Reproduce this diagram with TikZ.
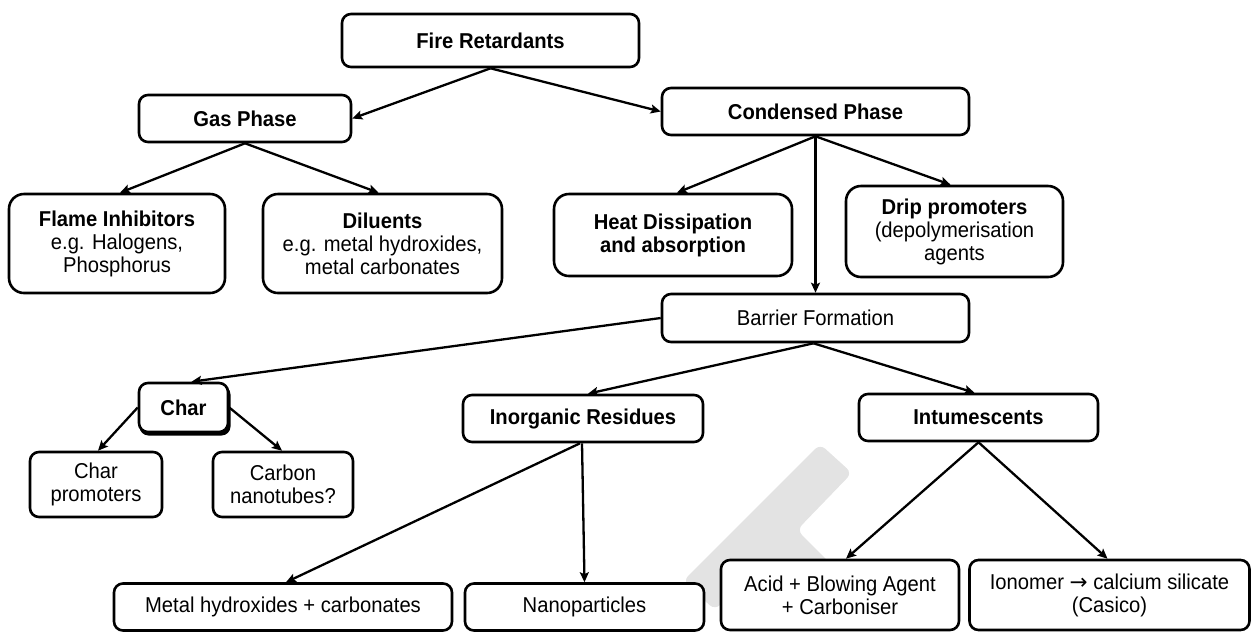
\documentclass[tikz,border=0pt]{standalone}
\usepackage{fontspec}
\setmainfont{Liberation Sans}[FakeStretch=0.94]
\newfontfamily\arrowfont{DejaVu Sans}
\usetikzlibrary{arrows.meta}
\tikzset{
  box/.style={draw, line width=2.6pt, rounded corners=9pt, fill=white, align=center,
    inner sep=0pt, font=\fontsize{21.5}{23}\selectfont},
  bigbox/.style={box, rounded corners=15pt},
  arr/.style={line width=2.3pt, -{Stealth[length=10pt,width=9pt,inset=2pt]}},
}
\begin{document}
\begin{tikzpicture}[x=1pt,y=-1pt]
\useasboundingbox (0,0) rectangle (1252,633);
% watermark
\fill[gray!22, rounded corners=7pt] (820,444) -- (852,473) -- (797,530) -- (857,590) -- (814,631)
  -- (754,571) -- (715,610) -- (683,581) -- cycle;
% nodes
\node[box, minimum width=297pt, minimum height=53pt] (fire) at (490.5,40.5) {\bfseries Fire Retardants};
\node[box, minimum width=212pt, minimum height=47pt] (gas) at (245,118.5) {\bfseries Gas Phase};
\node[box, minimum width=307pt, minimum height=47pt] (cond) at (815.5,111.5) {\bfseries Condensed Phase};
\node[bigbox, minimum width=216pt, minimum height=99pt] (flame) at (117,243.5) {\bfseries Flame Inhibitors\\e.g. Halogens,\\Phosphorus};
\node[bigbox, minimum width=239pt, minimum height=99pt] (dil) at (382.5,243.5) {\bfseries Diluents\\e.g. metal hydroxides,\\metal carbonates};
\node[bigbox, minimum width=238pt, minimum height=82pt] (heat) at (673,235) {\bfseries Heat Dissipation\\\bfseries and absorption};
\node[bigbox, minimum width=217pt, minimum height=91pt] (drip) at (954.5,231.5) {\bfseries Drip promoters\\(depolymerisation\\agents};
\node[box, minimum width=307pt, minimum height=48pt] (barrier) at (815.5,318) {Barrier Formation};
\fill[rounded corners=9pt] (139.5,385.5) rectangle (230.5,435.5);
\node[box, minimum width=89pt, minimum height=49pt] (char) at (183.5,407.5) {\bfseries Char};
\node[box, minimum width=132pt, minimum height=65pt] (charprom) at (96,484.5) {Char\\promoters};
\node[box, minimum width=140pt, minimum height=65pt] (carbon) at (283,484.5) {Carbon\\nanotubes?};
\node[box, minimum width=240pt, minimum height=47pt] (inorg) at (583,418.5) {\bfseries Inorganic Residues};
\node[box, minimum width=239pt, minimum height=47pt] (intu) at (978.5,417.5) {\bfseries Intumescents};
\node[box, minimum width=338pt, minimum height=47pt] (metal) at (283,607) {Metal hydroxides + carbonates};
\node[box, minimum width=239pt, minimum height=47pt] (nano) at (584.5,607) {Nanoparticles};
\node[box, minimum width=238pt, minimum height=70pt] (acid) at (840,595) {Acid + Blowing Agent\\+ Carboniser};
\node[box, minimum width=280pt, minimum height=70pt] (ion) at (1109.5,595) {Ionomer {\arrowfont→} calcium silicate\\(Casico)};
% connectors
\draw[arr] (fire.south) -- (gas.east);
\draw[arr] (fire.south) -- (cond.west);
\draw[arr] (gas.south) -- ([xshift=3pt]flame.north);
\draw[arr] (gas.south) -- ([xshift=-4pt]dil.north);
\draw[arr] (cond.south) -- ([xshift=4pt]heat.north);
\draw[arr] (cond.south) -- ([xshift=-4pt]drip.north);
\draw[arr] (cond.south) -- (barrier.north);
\draw[arr] (barrier.west) -- ([xshift=8pt]char.north);
\draw[arr] ([xshift=-2pt]barrier.south) -- ([xshift=5pt]inorg.north);
\draw[arr] ([xshift=-2pt]barrier.south) -- ([xshift=-4pt]intu.north);
\draw[arr] (char.west) -- ([xshift=2pt]charprom.north);
\draw[arr] (char.east) -- ([xshift=-1pt]carbon.north);
\draw[arr] ([xshift=-3pt]inorg.south) -- ([xshift=3pt]metal.north);
\draw[arr] ([xshift=-1pt]inorg.south) -- (nano.north);
\draw[arr] (intu.south) -- ([xshift=6pt]acid.north);
\draw[arr] (intu.south) -- ([xshift=-2pt]ion.north);
\end{tikzpicture}
\end{document}
